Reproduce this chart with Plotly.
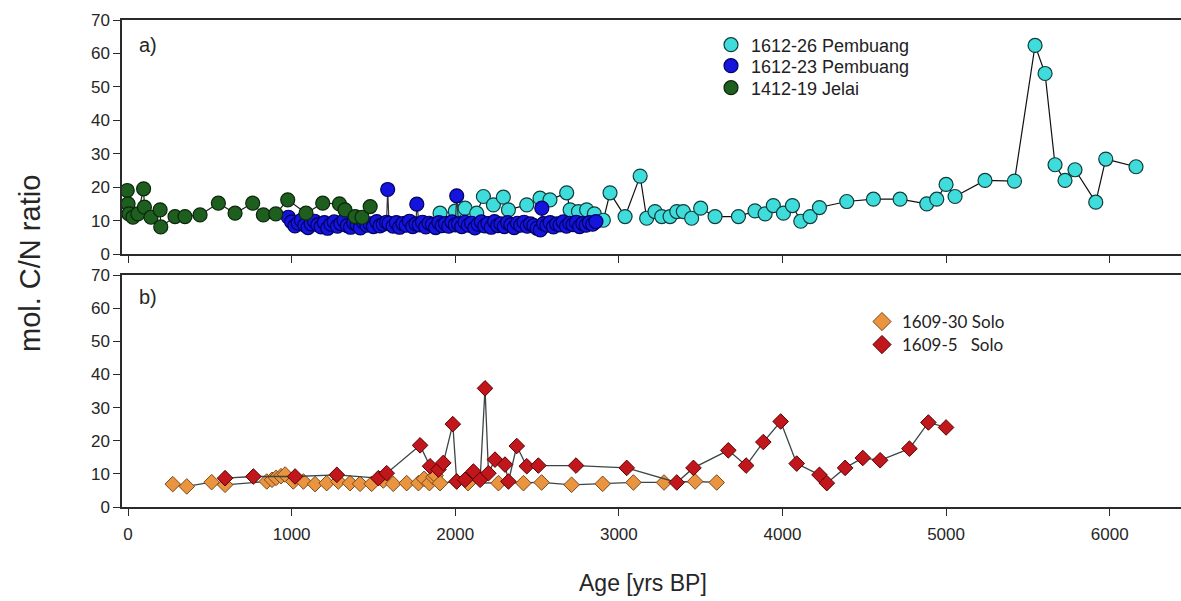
import plotly.graph_objects as go

# ---------------- data ----------------
# Panel a) 1612-26 Pembuang (cyan)
cyan_age = [1907, 2000, 2060, 2131, 2172, 2233, 2294, 2325, 2437, 2518, 2579, 2681, 2702, 2753,
            2803, 2850, 2905, 2946, 3038, 3130, 3170, 3221, 3262, 3313, 3354, 3394, 3445, 3500,
            3588, 3731, 3832, 3894, 3944, 4006, 4061, 4112, 4169, 4226, 4393, 4556, 4719, 4882,
            4943, 5000, 5055, 5238, 5418, 5544, 5605, 5666, 5727, 5788, 5915, 5976, 6161]
cyan_cn = [12.2, 12.8, 13.7, 12.2, 17.2, 14.7, 17.0, 13.2, 14.7, 16.7, 16.2, 18.3, 13.2, 12.7,
           13.2, 12.0, 10.1, 18.3, 11.2, 23.3, 10.7, 12.7, 11.2, 11.2, 12.7, 12.7, 10.7, 13.7,
           11.2, 11.2, 12.9, 12.0, 14.5, 12.2, 14.5, 9.8, 11.2, 13.9, 15.7, 16.4, 16.4, 15.0,
           16.4, 20.8, 17.2, 22.0, 21.8, 62.4, 54.0, 26.7, 22.0, 25.2, 15.5, 28.4, 26.1]

# Panel a) 1612-23 Pembuang (blue)
blue_age = [980, 1000, 1020, 1040, 1060, 1080, 1100, 1120, 1140, 1160, 1180, 1200, 1220, 1240,
            1260, 1280, 1300, 1320, 1340, 1360, 1380, 1400, 1420, 1440, 1460, 1480, 1500, 1520,
            1540, 1560, 1580, 1587, 1595, 1620, 1640, 1660, 1680, 1700, 1720, 1740, 1760, 1765,
            1780, 1800, 1820, 1840, 1860, 1880, 1900, 1920, 1940, 1960, 1980, 2000, 2009, 2020,
            2040, 2060, 2080, 2100, 2120, 2140, 2160, 2180, 2200, 2220, 2240, 2260, 2280, 2300,
            2320, 2340, 2360, 2380, 2400, 2420, 2440, 2460, 2480, 2500, 2520, 2529, 2540, 2560,
            2580, 2600, 2620, 2640, 2660, 2680, 2700, 2720, 2740, 2760, 2780, 2800, 2820, 2840,
            2860]
blue_cn = [11.0, 9.6, 8.4, 9.2, 10.1, 8.6, 7.9, 9.0, 9.8, 8.7, 8.1, 9.4, 7.7, 8.9,
           9.6, 8.3, 9.1, 10.0, 8.5, 8.0, 9.3, 8.8, 7.8, 9.5, 8.6, 9.0, 8.2, 9.7,
           8.4, 8.9, 9.5, 19.3, 9.2, 8.3, 9.4, 8.0, 9.1, 8.6, 9.8, 8.2, 9.0, 14.9,
           8.7, 9.5, 8.1, 9.2, 8.8, 7.9, 9.4, 8.5, 9.1, 8.3, 9.6, 8.7, 17.4, 9.0,
           8.2, 9.5, 8.6, 9.2, 7.8, 8.9, 9.6, 8.4, 9.1, 8.0, 9.7, 8.5, 9.0, 8.2,
           9.4, 8.7, 7.9, 9.2, 8.6, 9.5, 8.3, 9.0, 8.5, 7.7, 7.2, 13.7, 9.1, 8.6,
           9.4, 8.1, 9.0, 8.7, 9.6, 8.3, 9.2, 8.8, 9.5, 8.2, 9.1, 8.6, 9.4, 8.9,
           9.7]

# Panel a) 1412-19 Jelai (green)
green_age = [-5, 0, 5, 30, 60, 95, 100, 140, 196, 200, 287, 348, 440, 552, 654, 762, 827, 903,
             976, 1088, 1190, 1292, 1326, 1388, 1430, 1480]
green_cn = [19.0, 15.0, 12.0, 11.0, 12.0, 19.5, 14.0, 11.0, 13.2, 8.1, 11.2, 11.2, 11.7, 15.2,
            12.2, 15.2, 11.7, 12.0, 16.2, 12.2, 15.2, 15.0, 13.2, 11.2, 11.0, 14.2]

# Panel b) 1609-30 Solo (orange)
orange_age = [273, 359, 511, 593, 848, 880, 905, 935, 960, 1010, 1072, 1143, 1214, 1285, 1357,
              1418, 1489, 1560, 1621, 1703, 1775, 1810, 1842, 1866, 1880, 1907, 2009, 2078,
              2264, 2417, 2528, 2711, 2901, 3089, 3276, 3466, 3598]
orange_cn = [6.9, 6.2, 7.5, 6.7, 7.7, 8.2, 8.8, 9.3, 9.8, 7.7, 7.7, 6.9, 7.2, 7.7, 7.2,
             7.0, 7.0, 8.0, 7.0, 7.2, 7.2, 8.5, 7.2, 9.0, 9.5, 7.2, 7.7, 7.2,
             7.2, 7.2, 7.4, 6.7, 7.0, 7.4, 7.4, 7.7, 7.4]

# Panel b) 1609-5 Solo (red)
red_age = [593, 766, 1021, 1276, 1530, 1581, 1785, 1846, 1897, 1927, 1985, 2009, 2060, 2111,
           2152, 2182, 2203, 2243, 2304, 2325, 2376, 2437, 2508, 2738, 3048, 3354, 3456, 3669,
           3778, 3883, 3989, 4087, 4226, 4271, 4383, 4491, 4597, 4776, 4892, 5000]
red_cn = [8.7, 9.2, 9.2, 9.7, 8.7, 10.2, 18.6, 12.3, 11.3, 13.3, 25.0, 7.7, 8.2, 10.7,
          8.2, 35.8, 10.2, 14.3, 12.8, 7.7, 18.4, 12.3, 12.5, 12.5, 11.8, 7.4, 11.8, 17.1,
          12.5, 19.6, 25.8, 13.1, 9.7, 7.2, 11.8, 14.8, 14.1, 17.6, 25.5, 24.0]

x_ticks = [0, 1000, 2000, 3000, 4000, 5000, 6000]
y_ticks = [0, 10, 20, 30, 40, 50, 60, 70]

names_a = ["1612-26 Pembuang", "1612-23 Pembuang", "1412-19 Jelai"]
names_b = ["1609-30 Solo", "1609-5\u00a0\u00a0\u00a0Solo"]

# ---------------- styles ----------------
CYAN, BLUE, GREEN = "#3fdcdc", "#1414dc", "#1e5e1e"
ORANGE, RED = "#ea9440", "#c0161c"
EDGES_A = ["#123c3c", "#000060", "#0b260b"]
EDGES_B = ["#7a4a1c", "#5a0000"]
FONT = "Liberation Sans, Arial, sans-serif"

W, H = 1181, 601
L, R, T, B = 122, 0, 20, 94
PH = H - T - B


def py(p):  # pixel y -> paper y
    return (H - B - p) / PH


def px(p):
    return (p - L) / (W - L - R)


fig = go.Figure()


def circ(x, y, fill, edge, name, line_col):
    fig.add_trace(go.Scatter(
        x=x, y=y, mode="lines+markers", xaxis="x2", yaxis="y2", showlegend=False,
        line=dict(color=line_col, width=1.2),
        marker=dict(symbol="circle", size=14, color=fill, line=dict(color=edge, width=1.2)),
        name=name))


circ(cyan_age, cyan_cn, CYAN, EDGES_A[0], names_a[0], "#111111")
circ(blue_age, blue_cn, BLUE, EDGES_A[1], names_a[1], "#333333")
circ(green_age, green_cn, GREEN, EDGES_A[2], names_a[2], "#222222")


def dia(x, y, fill, edge, name):
    fig.add_trace(go.Scatter(
        x=x, y=y, mode="lines+markers", xaxis="x", yaxis="y", showlegend=False,
        line=dict(color="#3c4646", width=1.3),
        marker=dict(symbol="diamond", size=12, color=fill, line=dict(color=edge, width=1.0)),
        name=name))


dia(orange_age, orange_cn, ORANGE, EDGES_B[0], names_b[0])
dia(red_age, red_cn, RED, EDGES_B[1], names_b[1])

# legend-only entries, one legend per row so rows sit where the reference puts them
legend_rows_a = [45, 66, 88]
legend_rows_b = [322, 345]
leg_layout = {}
k = 0
for nm, fill, edge, row in zip(names_a, [CYAN, BLUE, GREEN], EDGES_A, legend_rows_a):
    k += 1
    lname = "legend" if k == 1 else f"legend{k}"
    fig.add_trace(go.Scatter(x=[None], y=[None], mode="markers", xaxis="x2", yaxis="y2",
                             name=nm, legend=lname,
                             marker=dict(symbol="circle", size=14, color=fill,
                                         line=dict(color=edge, width=1.2))))
    leg_layout[lname] = dict(x=px(711), y=py(row), xanchor="left", yanchor="middle",
                             bgcolor="rgba(0,0,0,0)", itemwidth=30,
                             font=dict(family=FONT, size=18, color="#222222"))
for nm, fill, edge, row in zip(names_b, [ORANGE, RED], EDGES_B, legend_rows_b):
    k += 1
    lname = f"legend{k}"
    fig.add_trace(go.Scatter(x=[None], y=[None], mode="markers", xaxis="x", yaxis="y",
                             name=nm, legend=lname,
                             marker=dict(symbol="diamond", size=14, color=fill,
                                         line=dict(color=edge, width=1.0))))
    leg_layout[lname] = dict(x=px(862), y=py(row), xanchor="left", yanchor="middle",
                             bgcolor="rgba(0,0,0,0)", itemwidth=30,
                             font=dict(family="Lato, Carlito, sans-serif", size=17,
                                       color="#222222"))

xr = [-37, 6436]
axis_common = dict(showgrid=False, zeroline=False, showline=True, linecolor="#2a2a2a",
                   linewidth=1.5, ticks="outside", ticklen=7, tickcolor="#2a2a2a", tickwidth=1.3)

fig.update_layout(
    width=W, height=H,
    margin=dict(l=L, r=R, t=T, b=B),
    paper_bgcolor="white", plot_bgcolor="white",
    font=dict(family=FONT, color="#262626", size=17),
    xaxis=dict(domain=[0, 1], range=xr, anchor="y", tickvals=x_ticks, mirror=True,
               tickfont=dict(size=17), ticklabelstandoff=4, **axis_common),
    xaxis2=dict(domain=[0, 1], range=xr, anchor="y2", tickvals=x_ticks, showticklabels=False,
                mirror=True, matches="x", **axis_common),
    yaxis=dict(domain=[0, py(275)], range=[0, 70], anchor="x", tickvals=y_ticks,
               tickfont=dict(size=17), **axis_common),
    yaxis2=dict(domain=[py(254), 1], range=[0, 70], anchor="x2", tickvals=y_ticks,
                tickfont=dict(size=17), **axis_common),
    annotations=[
        dict(text="a)", x=px(137), y=py(45), xref="paper", yref="paper", showarrow=False,
             xanchor="left", yanchor="middle", font=dict(size=20, family=FONT)),
        dict(text="b)", x=px(137), y=py(297), xref="paper", yref="paper", showarrow=False,
             xanchor="left", yanchor="middle", font=dict(size=20, family=FONT)),
        dict(text="mol. C/N ratio", x=px(30), y=py(264), xref="paper", yref="paper",
             showarrow=False, textangle=-90, xanchor="center", yanchor="middle",
             font=dict(size=29, family=FONT)),
        dict(text="Age [yrs BP]", x=px(643), y=py(583), xref="paper", yref="paper",
             showarrow=False, xanchor="center", yanchor="middle",
             font=dict(size=23, family=FONT)),
    ],
    **leg_layout,
)

fig.write_html("out.html")
